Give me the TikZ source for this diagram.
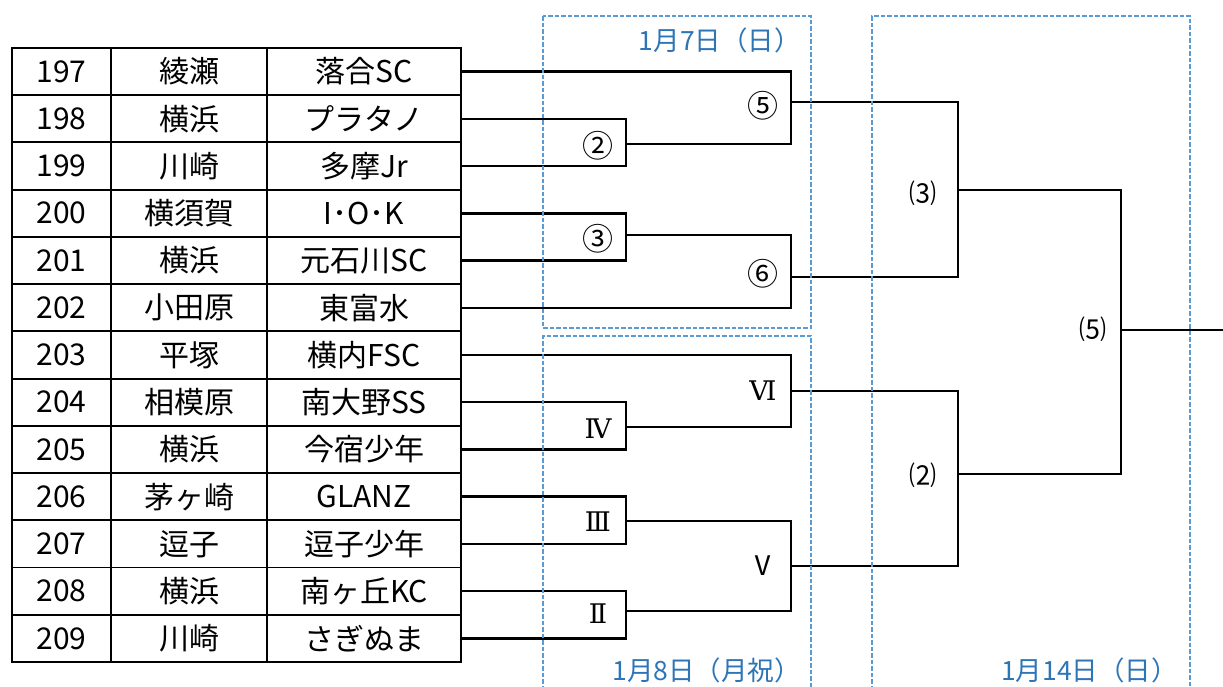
\documentclass[tikz,border=0pt]{standalone}
\usepackage{fontspec}
\setmainfont{Noto Sans CJK JP}
\newfontfamily\romanfont{DejaVu Serif}
\usetikzlibrary{positioning}
\definecolor{dateBlue}{RGB}{46,117,182}
\definecolor{boxBlue}{RGB}{91,155,213}

\begin{document}
\begin{tikzpicture}[x=1pt, y=-1pt,
        cell/.style={rectangle, draw, line width=1.9pt, minimum height=47.23pt, inner sep=0pt, outer sep=0pt, font=\fontsize{30}{33}\selectfont},
        numcell/.style={cell, minimum width=99pt},
        citycell/.style={cell, minimum width=156pt},
        teamcell/.style={cell, minimum width=194pt},
        bracket/.style={line width=2.5pt},
        mlabel/.style={font=\fontsize{27}{29}\selectfont, inner sep=0pt},
        clabel/.style={font=\fontsize{31}{33}\selectfont, inner sep=0pt},
        rlabel/.style={font=\romanfont\fontsize{27}{29}\selectfont, inner sep=0pt},
        daybox/.style={draw=boxBlue, line width=2.2pt, dash pattern=on 4.5pt off 2pt},
        daylabel/.style={text=dateBlue, font=\fontsize{26.5}{29}\selectfont, anchor=east, inner sep=0pt}
    ]
        \useasboundingbox (0,0) rectangle (1223,686);

        % Table
        \node[numcell] (n197) at (61.5,71.6) {197};
        \node[citycell, right=0pt of n197] (c197) {綾瀬};
        \node[teamcell, right=0pt of c197] (t197) {落合SC};
        \node[numcell, below=0pt of n197] (n198) {198};
        \node[citycell, right=0pt of n198] (c198) {横浜};
        \node[teamcell, right=0pt of c198] (t198) {プラタノ};
        \node[numcell, below=0pt of n198] (n199) {199};
        \node[citycell, right=0pt of n199] (c199) {川崎};
        \node[teamcell, right=0pt of c199] (t199) {多摩Jr};
        \node[numcell, below=0pt of n199] (n200) {200};
        \node[citycell, right=0pt of n200] (c200) {横須賀};
        \node[teamcell, right=0pt of c200] (t200) {I･O･K};
        \node[numcell, below=0pt of n200] (n201) {201};
        \node[citycell, right=0pt of n201] (c201) {横浜};
        \node[teamcell, right=0pt of c201] (t201) {元石川SC};
        \node[numcell, below=0pt of n201] (n202) {202};
        \node[citycell, right=0pt of n202] (c202) {小田原};
        \node[teamcell, right=0pt of c202] (t202) {東富水};
        \node[numcell, below=0pt of n202] (n203) {203};
        \node[citycell, right=0pt of n203] (c203) {平塚};
        \node[teamcell, right=0pt of c203] (t203) {横内FSC};
        \node[numcell, below=0pt of n203] (n204) {204};
        \node[citycell, right=0pt of n204] (c204) {相模原};
        \node[teamcell, right=0pt of c204] (t204) {南大野SS};
        \node[numcell, below=0pt of n204] (n205) {205};
        \node[citycell, right=0pt of n205] (c205) {横浜};
        \node[teamcell, right=0pt of c205] (t205) {今宿少年};
        \node[numcell, below=0pt of n205] (n206) {206};
        \node[citycell, right=0pt of n206] (c206) {茅ヶ崎};
        \node[teamcell, right=0pt of c206] (t206) {GLANZ};
        \node[numcell, below=0pt of n206] (n207) {207};
        \node[citycell, right=0pt of n207] (c207) {逗子};
        \node[teamcell, right=0pt of c207] (t207) {逗子少年};
        \node[numcell, below=0pt of n207] (n208) {208};
        \node[citycell, right=0pt of n208] (c208) {横浜};
        \node[teamcell, right=0pt of c208] (t208) {南ヶ丘KC};
        \node[numcell, below=0pt of n208] (n209) {209};
        \node[citycell, right=0pt of n209] (c209) {川崎};
        \node[teamcell, right=0pt of c209] (t209) {さぎぬま};

        % Match points
        \coordinate (m2) at (626,144);
        \coordinate (m3) at (626,235);
        \coordinate (m5) at (791,102);
        \coordinate (m6) at (791,277);
        \coordinate (r4) at (626,427);
        \coordinate (r3) at (626,521);
        \coordinate (r2) at (626,611);
        \coordinate (r6) at (791,391);
        \coordinate (r5) at (791,566);
        \coordinate (q3) at (958,190);
        \coordinate (q2) at (958,474);
        \coordinate (f5) at (1121,330);
        \coordinate (out) at (1223,330);

        % Brackets
        \draw[bracket] (t198.east) -| (m2) |- (t199.east);
        \draw[bracket] (t200.east) -| (m3) |- (t201.east);
        \draw[bracket] (t197.east) -| (m5) |- (m2);
        \draw[bracket] (t202.east) -| (m6) |- (m3);
        \draw[bracket] (t204.east) -| (r4) |- (t205.east);
        \draw[bracket] (t206.east) -| (r3) |- (t207.east);
        \draw[bracket] (t208.east) -| (r2) |- (t209.east);
        \draw[bracket] (t203.east) -| (r6) |- (r4);
        \draw[bracket] (r3) -| (r5) |- (r2);
        \draw[bracket] (m5) -| (q3) |- (m6);
        \draw[bracket] (r6) -| (q2) |- (r5);
        \draw[bracket] (q3) -| (f5) |- (q2);
        \draw[bracket] (f5) -- (out);

        % Match labels
        \node[clabel] (l2) at (598,146) {②};
        \node[clabel] (l3) at (598,239) {③};
        \node[clabel] (l5) at (763,106) {⑤};
        \node[clabel] (l6) at (763,274) {⑥};
        \node[rlabel] (lIV) at (598,429) {Ⅳ};
        \node[rlabel] (lIII) at (598,522) {Ⅲ};
        \node[rlabel] (lII) at (598,614) {Ⅱ};
        \node[rlabel] (lVI) at (763,391) {Ⅵ};
        \node[mlabel] (lV) at (763,566) {Ⅴ};
        \node[mlabel] (p3) at (923,193) {⑶};
        \node[mlabel] (p2) at (923,475) {⑵};
        \node[mlabel] (p5) at (1093,329) {⑸};

        % Day boxes
        \draw[daybox] (543,16) rectangle (811,328);
        \draw[daybox] (543,690) -- (543,336) -- (811,336) -- (811,690);
        \draw[daybox] (872,690) -- (872,16) -- (1190,16) -- (1190,690);
        \node[daylabel] (day1) at (801,40) {1月7日（日）};
        \node[daylabel] (day2) at (801,670) {1月8日（月祝）};
        \node[daylabel] (day3) at (1178,670) {1月14日（日）};

    \end{tikzpicture}
\end{document}
